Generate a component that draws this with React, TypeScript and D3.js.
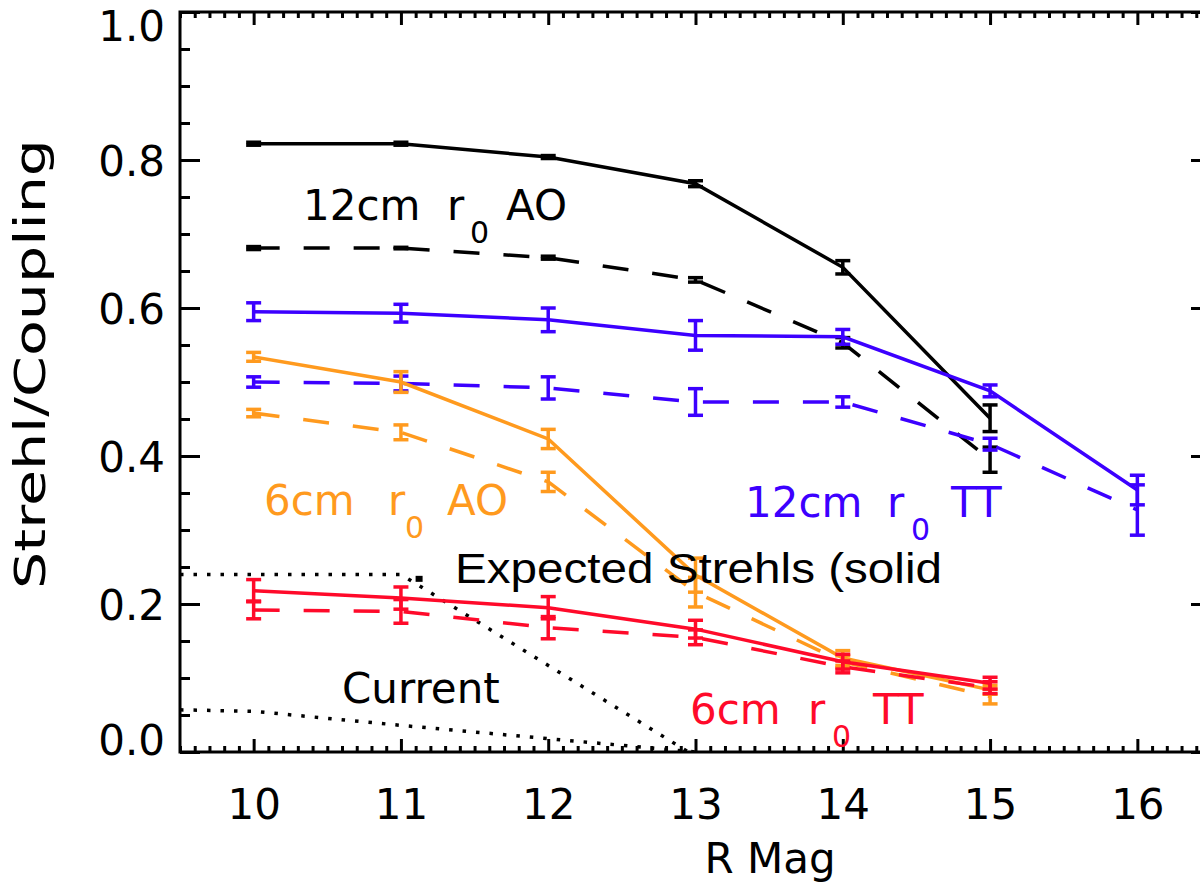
import React, { useEffect, useRef } from 'react';
import * as d3 from 'd3';

// R magnitudes
const magsAO = [10, 11, 12, 13, 14, 15];
const magsTT12 = [10, 11, 12, 13, 14, 15, 16];

// 12cm r0 AO (black): solid = expected Strehl, dashed = coupling
const ao12Strehl = [0.822, 0.822, 0.804, 0.768, 0.655, 0.451];
const ao12StrehlErr = [0.002, 0.002, 0.002, 0.004, 0.009, 0.018];
const ao12Coupling = [0.681, 0.681, 0.668, 0.638, 0.553, 0.395];
const ao12CouplingErr = [0.002, 0.001, 0.002, 0.003, 0.007, 0.017];

// 12cm r0 TT (blue)
const tt12Strehl = [0.595, 0.593, 0.584, 0.563, 0.561, 0.488, 0.354];
const tt12StrehlErr = [0.012, 0.012, 0.016, 0.02, 0.01, 0.008, 0.02];
const tt12Coupling = [0.5, 0.498, 0.492, 0.473, 0.473, 0.416, 0.327];
const tt12CouplingErr = [0.007, 0.01, 0.015, 0.018, 0.007, 0.008, 0.034];

// 6cm r0 AO (orange)
const ao6Strehl = [0.534, 0.5, 0.423, 0.239, 0.127, 0.084];
const ao6StrehlErr = [0.006, 0.014, 0.013, 0.023, 0.01, 0.006];
const ao6Coupling = [0.458, 0.432, 0.365, 0.216, 0.122, 0.075];
const ao6CouplingErr = [0.005, 0.01, 0.013, 0.02, 0.008, 0.01];

// 6cm r0 TT (red)
const tt6Strehl = [0.218, 0.208, 0.195, 0.166, 0.122, 0.093];
const tt6StrehlErr = [0.015, 0.015, 0.015, 0.012, 0.01, 0.008];
const tt6Coupling = [0.192, 0.19, 0.168, 0.155, 0.115, 0.087];
const tt6CouplingErr = [0.012, 0.016, 0.015, 0.01, 0.008, 0.008];

// dotted reference curves
const expectedMags = [9.5, 11, 12, 13];
const expectedVals = [0.24, 0.24, 0.117, -0.006];
const currentMags = [9.5, 10, 11, 12, 13];
const currentVals = [0.057, 0.055, 0.036, 0.018, 0.0];

const xMajor = [10, 11, 12, 13, 14, 15, 16];
const yMajor = [0, 0.2, 0.4, 0.6, 0.8, 1.0];

const BLACK = '#000000';
const BLUE = '#3c00ff';
const ORANGE = '#ff9a1e';
const RED = '#ff0a2a';

const series = [
  { mags: magsAO, vals: ao12Strehl, errs: ao12StrehlErr, color: BLACK, dashed: false },
  { mags: magsAO, vals: ao12Coupling, errs: ao12CouplingErr, color: BLACK, dashed: true },
  { mags: magsTT12, vals: tt12Strehl, errs: tt12StrehlErr, color: BLUE, dashed: false },
  { mags: magsTT12, vals: tt12Coupling, errs: tt12CouplingErr, color: BLUE, dashed: true },
  { mags: magsAO, vals: ao6Strehl, errs: ao6StrehlErr, color: ORANGE, dashed: false },
  { mags: magsAO, vals: ao6Coupling, errs: ao6CouplingErr, color: ORANGE, dashed: true },
  { mags: magsAO, vals: tt6Strehl, errs: tt6StrehlErr, color: RED, dashed: false },
  { mags: magsAO, vals: tt6Coupling, errs: tt6CouplingErr, color: RED, dashed: true },
];

const FONT = '"DejaVu Sans", sans-serif';

function App() {
  const ref = useRef<SVGSVGElement | null>(null);

  useEffect(() => {
    if (!ref.current) return;
    const svg = d3.select(ref.current);
    svg.selectAll('*').remove();

    const x = d3.scaleLinear().domain([9.5, 16.5]).range([180, 1211]);
    const y = d3.scaleLinear().domain([0, 1]).range([752, 12]);
    const [x0, x1] = x.range();
    const [y0, y1] = y.range();

    svg.append('defs').append('clipPath').attr('id', 'plotclip')
      .append('rect')
      .attr('x', x0).attr('y', y1)
      .attr('width', x1 - x0).attr('height', y0 - y1);

    const xMinor = d3.range(95, 166).map((d) => d / 10).filter((d) => !xMajor.includes(d));
    const yMinor = d3.range(0, 21).map((d) => d / 20).filter((d) => !yMajor.some((m) => Math.abs(m - d) < 1e-9));

    const styleAxis = (g: any) => {
      g.select('.domain').remove();
      g.selectAll('line').attr('stroke', '#000').attr('stroke-width', 3);
      g.selectAll('text').attr('fill', '#000');
      g.attr('font-family', FONT).attr('font-size', 42);
    };

    // bottom
    svg.append('g').attr('transform', `translate(0,${y0})`)
      .call(d3.axisBottom(x).tickValues(xMajor).tickSize(-13).tickPadding(37).tickFormat(d3.format('d')))
      .call(styleAxis);
    svg.append('g').attr('transform', `translate(0,${y0})`)
      .call(d3.axisBottom(x).tickValues(xMinor).tickSize(-6).tickFormat(() => ''))
      .call(styleAxis);
    // top
    svg.append('g').attr('transform', `translate(0,${y1})`)
      .call(d3.axisTop(x).tickValues(xMajor).tickSize(-13).tickFormat(() => ''))
      .call(styleAxis);
    svg.append('g').attr('transform', `translate(0,${y1})`)
      .call(d3.axisTop(x).tickValues(xMinor).tickSize(-6).tickFormat(() => ''))
      .call(styleAxis);
    // left
    const left = svg.append('g').attr('transform', `translate(${x0},0)`)
      .call(d3.axisLeft(y).tickValues(yMajor).tickSize(-20).tickPadding(15).tickFormat(d3.format('.1f')))
      .call(styleAxis);
    // IDL nudges the end labels inside the frame
    left.selectAll('text').attr('dy', (d: any) => (d === 1 ? '0.68em' : d === 0 ? '0.05em' : '0.36em'));
    svg.append('g').attr('transform', `translate(${x0},0)`)
      .call(d3.axisLeft(y).tickValues(yMinor).tickSize(-10).tickFormat(() => ''))
      .call(styleAxis);
    // right
    svg.append('g').attr('transform', `translate(${x1},0)`)
      .call(d3.axisRight(y).tickValues(yMajor).tickSize(-20).tickFormat(() => ''))
      .call(styleAxis);
    svg.append('g').attr('transform', `translate(${x1},0)`)
      .call(d3.axisRight(y).tickValues(yMinor).tickSize(-10).tickFormat(() => ''))
      .call(styleAxis);

    // frame
    svg.append('rect')
      .attr('x', x0).attr('y', y1)
      .attr('width', x1 - x0).attr('height', y0 - y1)
      .attr('fill', 'none').attr('stroke', '#000').attr('stroke-width', 3);

    // dotted reference curves
    const line = d3.line<[number, number]>().x((d) => x(d[0])).y((d) => y(d[1]));
    const dotted = svg.append('g').attr('clip-path', 'url(#plotclip)');
    [[expectedMags, expectedVals], [currentMags, currentVals]].forEach(([m, v]) => {
      dotted.append('path')
        .datum(m.map((d, i) => [d, v[i]] as [number, number]))
        .attr('fill', 'none')
        .attr('stroke', '#000')
        .attr('stroke-width', 3.5)
        .attr('stroke-dasharray', '3.5 10')
        .attr('d', line);
    });
    dotted.append('rect')
      .attr('x', x(11.12) - 3).attr('y', y(0.234) - 3)
      .attr('width', 7).attr('height', 6).attr('fill', '#000');

    // series lines + error bars
    series.forEach((s) => {
      const g = svg.append('g');
      g.append('path')
        .datum(s.mags.map((d, i) => [d, s.vals[i]] as [number, number]))
        .attr('fill', 'none')
        .attr('stroke', s.color)
        .attr('stroke-width', 3.5)
        .attr('stroke-dasharray', s.dashed ? '26 24' : null)
        .attr('d', line);
      const bars = g.selectAll('g.err').data(s.mags).enter().append('g')
        .attr('stroke', s.color).attr('stroke-width', 3.5);
      bars.append('line')
        .attr('x1', (d) => x(d)).attr('x2', (d) => x(d))
        .attr('y1', (_, i) => y(s.vals[i] - s.errs[i]))
        .attr('y2', (_, i) => y(s.vals[i] + s.errs[i]));
      [-1, 1].forEach((sign) => {
        bars.append('line')
          .attr('x1', (d) => x(d) - 7.5).attr('x2', (d) => x(d) + 7.5)
          .attr('y1', (_, i) => y(s.vals[i] + sign * s.errs[i]))
          .attr('y2', (_, i) => y(s.vals[i] + sign * s.errs[i]));
      });
    });

    // curve labels with r0 subscript
    const subLabel = (pre: string, post: string, px: number, rx: number, zx: number, ax: number, base: number, color: string) => {
      const t = svg.append('g').attr('fill', color).attr('font-family', FONT).attr('font-size', 42);
      t.append('text').attr('x', px).attr('y', base).text(pre);
      t.append('text').attr('x', rx).attr('y', base).text('r');
      t.append('text').attr('x', zx).attr('y', base + 23).attr('font-size', 30).text('0');
      t.append('text').attr('x', ax).attr('y', base).text(post);
    };
    subLabel('12cm', 'AO', 303, 447, 470, 506, 220, BLACK);
    subLabel('6cm', 'AO', 264, 388, 405, 447, 515, ORANGE);
    subLabel('12cm', 'TT', 745, 887, 911, 951, 517, BLUE);
    subLabel('6cm', 'TT', 690, 808, 832, 873, 724, RED);

    svg.append('text')
      .attr('x', 342).attr('y', 703)
      .attr('font-family', FONT).attr('font-size', 42).attr('fill', '#000')
      .text('Current');

    svg.append('text')
      .attr('x', 455).attr('y', 583)
      .attr('font-family', '"Liberation Sans", Arial, sans-serif').attr('font-size', 43)
      .attr('textLength', 487).attr('lengthAdjust', 'spacingAndGlyphs')
      .attr('fill', '#000')
      .text('Expected Strehls (solid');

    // axis titles
    svg.append('text')
      .attr('x', 770).attr('y', 873)
      .attr('text-anchor', 'middle')
      .attr('font-family', FONT).attr('font-size', 42).attr('fill', '#000')
      .text('R Mag');

    svg.append('text')
      .attr('transform', 'translate(45,364) rotate(-90)')
      .attr('text-anchor', 'middle')
      .attr('font-family', FONT).attr('font-size', 42).attr('fill', '#000')
      .attr('textLength', 450).attr('lengthAdjust', 'spacingAndGlyphs')
      .text('Strehl/Coupling');
  }, []);

  return (
    <svg
      ref={ref}
      width={1200}
      height={893}
      style={{ position: 'absolute', left: 0, top: 0, background: '#fff' }}
    />
  );
}

export default App;
